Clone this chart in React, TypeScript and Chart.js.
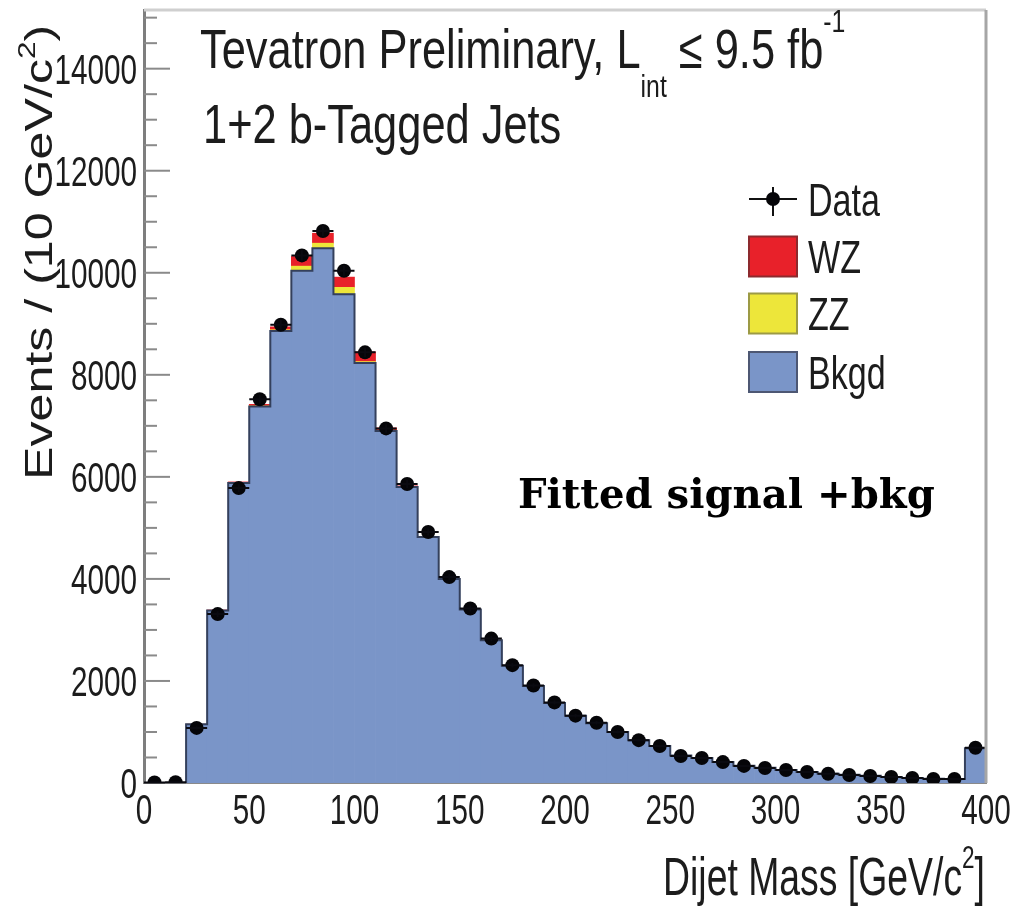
import { useEffect, useRef } from 'react';
import { Chart, registerables } from 'chart.js';

Chart.register(...registerables);

// Dijet mass histogram, 10 GeV/c^2 bins (last bin includes overflow)
const binLow = [
  0, 10, 20, 30, 40, 50, 60, 70, 80, 90,
  100, 110, 120, 130, 140, 150, 160, 170, 180, 190,
  200, 210, 220, 230, 240, 250, 260, 270, 280, 290,
  300, 310, 320, 330, 340, 350, 360, 370, 380, 390,
];
const BIN_WIDTH = 10;

const bkgd = [
  0, 0, 1150, 3380, 5880, 7380, 8860, 10040, 10480, 9580,
  8230, 6900, 5800, 4820, 4000, 3400, 2800, 2300, 1900, 1570,
  1320, 1170, 1000, 840, 725, 540, 490, 410, 340, 300,
  255, 215, 180, 160, 140, 120, 100, 85, 80, 680,
];
const zz = [
  0, 0, 1, 3, 6, 12, 25, 90, 100, 135,
  30, 15, 6, 3, 1, 0, 0, 0, 0, 0,
  0, 0, 0, 0, 0, 0, 0, 0, 0, 0,
  0, 0, 0, 0, 0, 0, 0, 0, 0, 0,
];
const wz = [
  0, 0, 2, 8, 15, 30, 55, 190, 195, 200,
  190, 45, 18, 8, 4, 2, 1, 0, 0, 0,
  0, 0, 0, 0, 0, 0, 0, 0, 0, 0,
  0, 0, 0, 0, 0, 0, 0, 0, 0, 0,
];
const observed = [
  10, 15, 1080, 3310, 5780, 7520, 8980, 10340, 10820, 10040,
  8440, 6950, 5860, 4920, 4035, 3420, 2830, 2310, 1910, 1580,
  1320, 1180, 1000, 840, 725, 530, 490, 410, 335, 295,
  255, 215, 180, 157, 137, 118, 98, 80, 78, 690,
];

const xTickValues = [0, 50, 100, 150, 200, 250, 300, 350, 400];
const xTickLabels = ['0', '50', '100', '150', '200', '250', '300', '350', '400'];
const yTickValues = [0, 2000, 4000, 6000, 8000, 10000, 12000, 14000];
const yTickLabels = ['0', '2000', '4000', '6000', '8000', '10000', '12000', '14000'];
const yMinorValues = [
  500, 1000, 1500, 2500, 3000, 3500, 4500, 5000, 5500, 6500, 7000, 7500,
  8500, 9000, 9500, 10500, 11000, 11500, 12500, 13000, 13500, 14500, 15000,
];

const Y_MAX = 15150;
const SANS = '"Liberation Sans", Arial, Helvetica, sans-serif';

type Run = { t: string; size: number; dy?: number };

function drawRuns(
  ctx: CanvasRenderingContext2D,
  runs: Run[],
  x: number,
  y: number,
  sx: number,
  opts: { family?: string; weight?: string; align?: 'left' | 'right' | 'center'; color?: string } = {},
) {
  const family = opts.family ?? SANS;
  const weight = opts.weight ?? 'normal';
  const widths = runs.map((r) => {
    ctx.font = `${weight} ${r.size}px ${family}`;
    return ctx.measureText(r.t).width * sx;
  });
  const total = widths.reduce((a, b) => a + b, 0);
  let cx = opts.align === 'right' ? x - total : opts.align === 'center' ? x - total / 2 : x;
  runs.forEach((r, i) => {
    ctx.save();
    ctx.translate(cx, y + (r.dy ?? 0));
    ctx.scale(sx, 1);
    ctx.font = `${weight} ${r.size}px ${family}`;
    ctx.fillStyle = opts.color ?? '#1c1c1c';
    ctx.textAlign = 'left';
    ctx.textBaseline = 'alphabetic';
    ctx.fillText(r.t, 0, 0);
    ctx.restore();
    cx += widths[i];
  });
}

// Axis frame, inward ticks and the tick labels
const framePlugin = {
  id: 'rootFrame',
  beforeDatasetsDraw(chart: any) {
    const { ctx, chartArea } = chart;
    const ys = chart.scales.y;
    ctx.save();
    ctx.strokeStyle = '#8a8a8a';
    ctx.lineWidth = 2;
    yTickValues.forEach((v) => {
      const py = ys.getPixelForValue(v);
      ctx.beginPath();
      ctx.moveTo(chartArea.left, py);
      ctx.lineTo(chartArea.left + 26, py);
      ctx.stroke();
    });
    yMinorValues.forEach((v) => {
      const py = ys.getPixelForValue(v);
      ctx.beginPath();
      ctx.moveTo(chartArea.left, py);
      ctx.lineTo(chartArea.left + 13, py);
      ctx.stroke();
    });
    ctx.restore();
  },
  afterDraw(chart: any) {
    const { ctx, chartArea } = chart;
    const xs = chart.scales.x;
    const ys = chart.scales.y;
    ctx.save();
    // top and right frame lines
    ctx.strokeStyle = '#cfcfcf';
    ctx.lineWidth = 3;
    ctx.beginPath();
    ctx.moveTo(chartArea.left, chartArea.top);
    ctx.lineTo(chartArea.right, chartArea.top);
    ctx.stroke();
    ctx.strokeStyle = '#a6a6a6';
    ctx.beginPath();
    ctx.moveTo(chartArea.right, chartArea.top);
    ctx.lineTo(chartArea.right, chartArea.bottom);
    ctx.stroke();
    ctx.restore();

    ctx.save();
    yTickValues.forEach((v, i) => {
      const py = ys.getPixelForValue(v);
      drawRuns(ctx, [{ t: yTickLabels[i], size: 43 }], chartArea.left - 7, py + 15, 0.69, { align: 'right' });
    });
    xTickValues.forEach((v, i) => {
      const px = xs.getPixelForValue(v);
      drawRuns(ctx, [{ t: xTickLabels[i], size: 43 }], px, chartArea.bottom + 41, 0.69, { align: 'center' });
    });

    // axis titles
    drawRuns(
      ctx,
      [
        { t: 'Dijet Mass [GeV/c', size: 53 },
        { t: '2', size: 32, dy: -27 },
        { t: ']', size: 53 },
      ],
      chartArea.right - 1,
      895,
      0.705,
      { align: 'right' },
    );
    ctx.save();
    ctx.translate(52, 480);
    ctx.rotate(-Math.PI / 2);
    drawRuns(
      ctx,
      [
        { t: 'Events / (10 GeV/c', size: 38 },
        { t: '2', size: 24, dy: -17 },
        { t: ')', size: 38 },
      ],
      0,
      0,
      1.32,
    );
    ctx.restore();

    // plot captions
    drawRuns(
      ctx,
      [
        { t: 'Tevatron Preliminary, L', size: 56 },
        { t: 'int', size: 32, dy: 29 },
        { t: ' \u2264 9.5 fb', size: 56 },
        { t: '-1', size: 32, dy: -36 },
      ],
      200,
      68,
      0.775,
    );
    drawRuns(ctx, [{ t: '1+2 b-Tagged Jets', size: 56 }], 203, 143, 0.775);
    drawRuns(ctx, [{ t: 'Fitted signal +bkg', size: 41 }], 518, 508, 0.98, {
      family: '"DejaVu Serif", Georgia, serif',
      weight: 'bold',
      color: '#000',
    });

    // legend
    const legendX = 749;
    const legendW = 48;
    const textX = 808;
    const rowY = [199, 256.5, 313.5, 372];
    const ds = chart.data.datasets;
    const dataDs = ds.find((d: any) => d.label === 'Data');
    ctx.strokeStyle = '#111';
    ctx.lineWidth = 2;
    ctx.beginPath();
    ctx.moveTo(legendX, rowY[0]);
    ctx.lineTo(legendX + legendW, rowY[0]);
    ctx.moveTo(legendX + legendW / 2, rowY[0] - 12);
    ctx.lineTo(legendX + legendW / 2, rowY[0] + 17);
    ctx.stroke();
    ctx.fillStyle = dataDs.backgroundColor;
    ctx.beginPath();
    ctx.arc(legendX + legendW / 2, rowY[0], 7, 0, Math.PI * 2);
    ctx.fill();
    drawRuns(ctx, [{ t: 'Data', size: 46 }], textX, rowY[0] + 16.5, 0.74);
    ['WZ', 'ZZ', 'Bkgd'].forEach((name, i) => {
      const d = ds.find((e: any) => e.label === name);
      const cy = rowY[i + 1];
      ctx.fillStyle = d.backgroundColor;
      ctx.fillRect(legendX, cy - 20, legendW, 40);
      ctx.strokeStyle = d.legendBorder;
      ctx.lineWidth = 2;
      ctx.strokeRect(legendX, cy - 20, legendW, 40);
      drawRuns(ctx, [{ t: name, size: 46 }], textX, cy + 16.5, 0.74);
    });
    ctx.restore();
  },
};

// Bin-width and statistical error bars on the data points
const errorBarPlugin = {
  id: 'dataErrors',
  afterDatasetsDraw(chart: any) {
    const { ctx } = chart;
    const xs = chart.scales.x;
    const ys = chart.scales.y;
    ctx.save();
    ctx.strokeStyle = '#0a0a10';
    ctx.lineWidth = 2;
    observed.forEach((v, i) => {
      const x0 = xs.getPixelForValue(binLow[i]);
      const x1 = xs.getPixelForValue(binLow[i] + BIN_WIDTH);
      const xc = xs.getPixelForValue(binLow[i] + BIN_WIDTH / 2);
      const py = ys.getPixelForValue(v);
      const err = Math.sqrt(v);
      ctx.beginPath();
      ctx.moveTo(x0, py);
      ctx.lineTo(x1, py);
      ctx.moveTo(xc, ys.getPixelForValue(v + err));
      ctx.lineTo(xc, ys.getPixelForValue(Math.max(0, v - err)));
      ctx.stroke();
    });
    ctx.restore();
  },
};

export default function App() {
  const canvasRef = useRef<HTMLCanvasElement | null>(null);

  useEffect(() => {
    if (!canvasRef.current) return;
    const centers = binLow.map((b) => b + BIN_WIDTH / 2);
    const outline = binLow.map((b, i) => ({ x: b, y: bkgd[i] }));
    outline.push({ x: binLow[binLow.length - 1] + BIN_WIDTH, y: bkgd[bkgd.length - 1] });
    outline.push({ x: binLow[binLow.length - 1] + BIN_WIDTH, y: 0 });

    const chart = new Chart(canvasRef.current, {
      type: 'bar',
      data: {
        datasets: [
          {
            type: 'scatter',
            label: 'Data',
            data: centers.map((x, i) => ({ x, y: observed[i] })),
            backgroundColor: '#050508',
            borderWidth: 0,
            pointRadius: 7,
            stack: 'data',
            order: -2,
          } as any,
          {
            type: 'line',
            label: 'outline',
            data: outline,
            borderColor: '#34405c',
            borderWidth: 2,
            pointRadius: 0,
            fill: false,
            stepped: true,
            stack: 'outline',
            order: -1,
          } as any,
          {
            label: 'Bkgd',
            data: centers.map((x, i) => ({ x, y: bkgd[i] })),
            backgroundColor: '#7a95c8',
            legendBorder: '#4d5773',
            stack: 'mc',
            order: 0,
          } as any,
          {
            label: 'ZZ',
            data: centers.map((x, i) => ({ x, y: zz[i] })),
            backgroundColor: '#ede63a',
            legendBorder: '#9c9a45',
            stack: 'mc',
            order: 1,
          } as any,
          {
            label: 'WZ',
            data: centers.map((x, i) => ({ x, y: wz[i] })),
            backgroundColor: '#e8212a',
            legendBorder: '#8c2a2e',
            stack: 'mc',
            order: 2,
          } as any,
        ],
      },
      options: {
        animation: false,
        responsive: true,
        maintainAspectRatio: false,
        events: [],
        datasets: {
          bar: { barPercentage: 1, categoryPercentage: 1, borderWidth: 0 },
        },
        layout: { padding: { left: 0, top: 10, right: 28, bottom: 0 } },
        plugins: { legend: { display: false }, tooltip: { enabled: false } },
        scales: {
          x: {
            type: 'linear',
            min: 0,
            max: 400,
            offset: false,
            stacked: true,
            grid: { display: false, offset: false },
            border: { display: true, color: '#8a8a8a', width: 2 },
            ticks: { display: false },
            afterFit: (s: any) => {
              s.height = 126;
            },
          },
          y: {
            type: 'linear',
            min: 0,
            max: Y_MAX,
            stacked: true,
            grid: { display: false },
            border: { display: true, color: '#7e7e7e', width: 3 },
            ticks: { display: false },
            afterFit: (s: any) => {
              s.width = 144;
            },
          },
        },
      },
      plugins: [framePlugin, errorBarPlugin],
    });
    return () => chart.destroy();
  }, []);

  return (
    <div style={{ position: 'absolute', left: 0, top: 0, width: 1014, height: 909, background: '#fff' }}>
      <canvas ref={canvasRef} />
    </div>
  );
}
